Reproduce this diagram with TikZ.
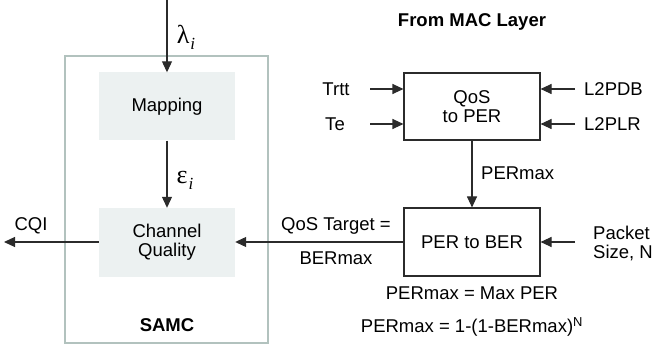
\documentclass[tikz,border=0pt]{standalone}
\usepackage{fontspec}
\setmainfont{Liberation Sans}
\newfontfamily\greekserif{Liberation Serif}
\usetikzlibrary{arrows.meta}
\definecolor{linegray}{HTML}{2B2B2B}
\definecolor{frame}{HTML}{B2C2BE}
\definecolor{panel}{HTML}{ECF1F1}
\begin{document}
\begin{tikzpicture}[x=1pt,y=-1pt,
  font=\fontsize{18.5}{21}\selectfont,
  arr/.style={draw=linegray,line width=1.1pt,-{Triangle[length=11pt,width=10pt]}},
  inner/.style={fill=panel,draw=none,minimum width=136pt,minimum height=68pt,inner sep=0pt,align=center},
  procbox/.style={draw=linegray,line width=1.1pt,minimum width=136pt,minimum height=67pt,inner sep=0pt,align=center},
  lbl/.style={inner sep=0pt,text=black},
  greek/.style={inner sep=0pt,text=black,font=\fontsize{26}{28}\greekserif}]
\useasboundingbox (0,0) rectangle (655,344);

% SAMC frame and its two inner blocks
\node[draw=frame,line width=1.2pt,minimum width=203pt,minimum height=287pt,inner sep=0pt] (samc) at (166.5,199.5) {};
\node[inner] (map) at (167,106.5) {Mapping};
\node[inner,minimum height=69pt] (cq) at (167,242.5) {Channel\\[-2pt]Quality};
\node[lbl,font=\fontsize{18.5}{21}\selectfont\bfseries] (samclbl) at (167,325) {SAMC};

% MAC-layer processing blocks
\node[lbl,font=\fontsize{18.5}{21}\selectfont\bfseries] (mac) at (472,22) {From MAC Layer};
\node[procbox] (qos) at (472,106.5) {QoS\\[-2pt]to PER};
\node[procbox,minimum height=68pt] (pb) at (472,242) {PER to BER};

% free ends of the connectors
\coordinate (top) at (167,0);
\coordinate (cqiend) at (4,242);
\coordinate (trtt) at (370,89);
\coordinate (te) at (370,124);
\coordinate (pdb) at (575,89);
\coordinate (plr) at (575,124);
\coordinate (pkt) at (575,242);

% connectors
\draw[arr] (top) -- (map.north);
\draw[arr] (map.south) -- (cq.north);
\draw[arr] (cq.west |- cqiend) -- (cqiend);
\draw[arr] (pb.west |- cqiend) -- (cq.east |- cqiend);
\draw[arr] (qos.south) -- (pb.north);
\draw[arr] (trtt) -- (trtt -| qos.west);
\draw[arr] (te) -- (te -| qos.west);
\draw[arr] (pdb) -- (pdb -| qos.east);
\draw[arr] (plr) -- (plr -| qos.east);
\draw[arr] (pkt) -- (pkt -| pb.east);

% labels
\node[greek] (lam) at (186,37) {λ\kern1pt\raisebox{-6pt}{\fontsize{17}{19}\selectfont\itshape i}};
\node[greek] (eps) at (185,180) {ε\kern1pt\raisebox{-6pt}{\fontsize{17}{19}\selectfont\itshape i}};
\node[lbl] (cqi) at (31,226) {CQI};
\node[lbl] (qt) at (336,226) {QoS Target =};
\node[lbl] (bm) at (336,258) {BERmax};
\node[lbl,anchor=west] (pm) at (481,173) {PERmax};
\node[lbl] (trttl) at (336,89) {Trtt};
\node[lbl] (tel) at (335,124) {Te};
\node[lbl,anchor=west] (pdbl) at (584,89) {L2PDB};
\node[lbl,anchor=west] (plrl) at (584,124) {L2PLR};
\node[lbl,anchor=west,align=left] (pktl) at (593,243) {Packet\\[-2pt]Size, N};
\node[lbl] (eq1) at (472,293) {PERmax = Max PER};
\node[lbl] (eq2) at (472,327) {PERmax = 1-(1-BERmax)\textsuperscript{N}};
\end{tikzpicture}
\end{document}
